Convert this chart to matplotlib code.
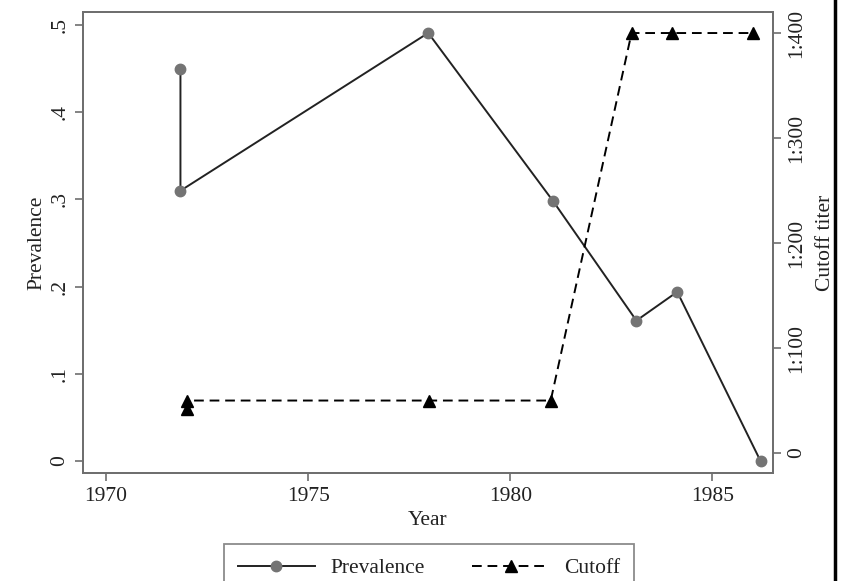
import numpy as np
import matplotlib
matplotlib.use("Agg")
import matplotlib.pyplot as plt
from matplotlib.lines import Line2D

plt.rcParams['font.family'] = ['Liberation Serif', 'DejaVu Serif']

# prevalence by survey year
prev_year = [1971.84, 1971.84, 1977.97, 1981.06, 1983.12, 1984.13, 1986.19]
prevalence = [0.45, 0.31, 0.491, 0.298, 0.161, 0.194, 0.0]

# cutoff titer (denominator) by year
cut_year = [1972, 1972, 1978, 1981, 1983, 1984, 1986]
cutoff = [42, 50, 50, 50, 400, 400, 400]

left_ticks = [0, 0.1, 0.2, 0.3, 0.4, 0.5]
left_labels = ['0', '.1', '.2', '.3', '.4', '.5']
right_ticks = [0, 100, 200, 300, 400]
right_labels = ['0', '1:100', '1:200', '1:300', '1:400']
x_ticks = [1970, 1975, 1980, 1985]

spine_col = '#6e6e6e'
fs = 15.5

fig = plt.figure(figsize=(8.43, 5.81), dpi=100)
ax = fig.add_axes([0.0985, 0.1859, 0.8185, 0.7934])
ax2 = ax.twinx()

l1, = ax.plot(prev_year, prevalence, color='#222222', lw=1.4,
              marker='o', ms=7.5, mfc='#747474', mec='#747474',
              label='Prevalence')
l2, = ax2.plot(cut_year, cutoff, color='black', lw=1.4,
               linestyle=(0, (5, 3)), marker='^', ms=8,
               mfc='black', mec='black', label='Cutoff')

ax.set_xlim(1969.43, 1986.5)
ax.set_ylim(-0.0138, 0.515)
ax2.set_ylim(-19, 420)

ax.set_xticks(x_ticks)
ax.set_yticks(left_ticks)
ax.set_yticklabels(left_labels, rotation=90, va='center')
ax2.set_yticks(right_ticks)
ax2.set_yticklabels(right_labels, rotation=90, va='center')

for a in (ax, ax2):
    for s in a.spines.values():
        s.set_color(spine_col)
        s.set_linewidth(1.3)
    a.tick_params(colors=spine_col, labelcolor='#222222', labelsize=fs,
                  length=6, width=1.2, pad=4)

ax.set_xlabel('Year', fontsize=fs, color='#222222', labelpad=4)
ax.set_ylabel('Prevalence', fontsize=fs, color='#222222', labelpad=3)
ax2.set_ylabel('Cutoff titer', fontsize=fs, color='#222222',
               rotation=90, labelpad=7)

leg = fig.legend(handles=[l1, l2], loc='upper center',
                 bbox_to_anchor=(429 / 843, 1 - 544 / 581), ncol=2,
                 fontsize=fs, frameon=True, fancybox=False, borderaxespad=0,
                 handlelength=3.6, columnspacing=2.2, numpoints=1,
                 borderpad=0.65, handletextpad=0.7)
leg.get_frame().set_edgecolor(spine_col)
leg.get_frame().set_linewidth(1.3)
for t in leg.get_texts():
    t.set_color('#222222')

# dark rule along the right edge
fig.add_artist(Line2D([835 / 843, 835 / 843], [0, 1], color='black', lw=2.5))

fig.savefig('out.png', dpi=100)
